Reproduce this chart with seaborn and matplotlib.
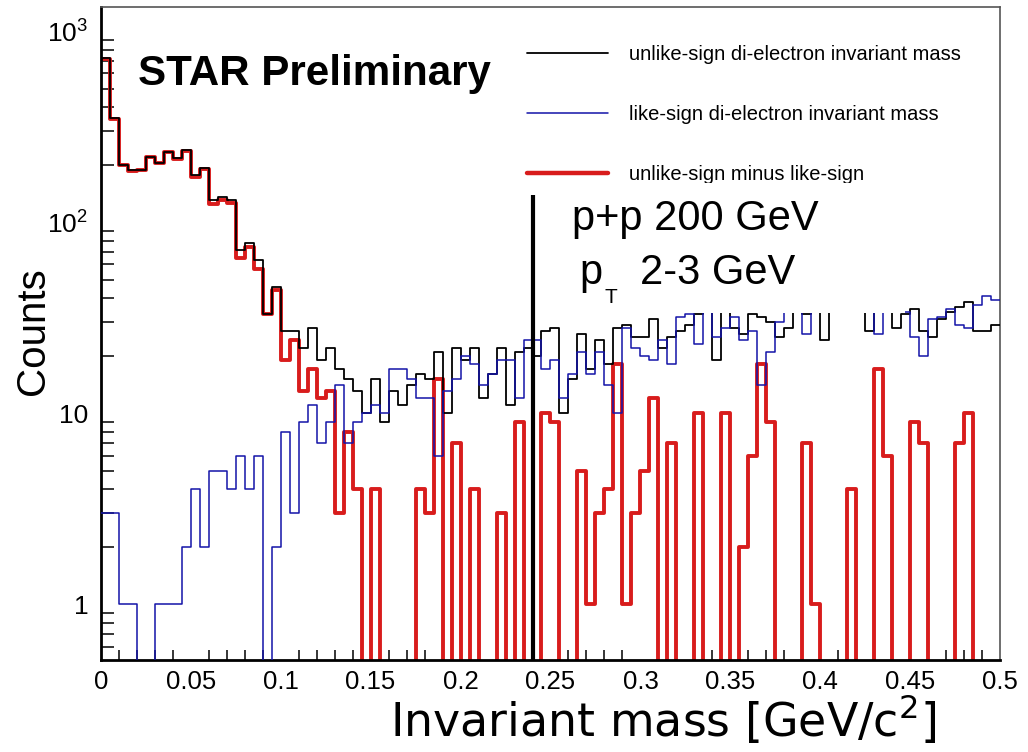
import numpy as np
import pandas as pd
import seaborn as sns
import matplotlib
matplotlib.use("Agg")
import matplotlib.pyplot as plt
from matplotlib.lines import Line2D
from matplotlib.patches import Rectangle
from matplotlib.ticker import FixedLocator, MultipleLocator, LogLocator, NullFormatter

# Binning: 100 bins of 0.005 GeV/c^2 between 0 and 0.5
n_bins = 100
mass_range = (0.0, 0.5)

# unlike-sign di-electron invariant mass (counts per bin)
unlike_sign = [720, 351, 199, 187, 187, 220, 204, 233, 216, 238,
               176, 191, 130, 136, 130, 71, 78, 63, 33, 46,
               27, 27, 22, 28, 19, 22, 17, 15, 13, 10,
               15, 9, 13, 11, 14, 16, 15, 21, 10, 22,
               19, 22, 12, 16, 22, 11, 21, 22, 20, 27,
               28, 10, 15, 26, 17, 24, 18, 28, 29, 25,
               25, 31, 22, 25, 27, 29, 33, 36, 19, 38,
               28, 26, 33, 32, 30, 25, 28, 35, 33, 35,
               24, 35, 35, 38, 36, 27, 43, 40, 28, 33,
               35, 27, 25, 31, 34, 36, 38, 27, 27, 29]

# like-sign di-electron invariant mass
like_sign = [3, 3, 1, 1, 0, 0, 1, 1, 1, 2,
             4, 2, 5, 5, 4, 6, 4, 6, 0, 2,
             8, 3, 9, 11, 7, 9, 14, 7, 9, 10,
             11, 10, 17, 17, 15, 12, 12, 6, 13, 15,
             20, 18, 14, 16, 19, 19, 12, 24, 24, 17,
             19, 12, 16, 21, 16, 21, 14, 10, 28, 22,
             20, 19, 24, 18, 32, 33, 23, 37, 25, 28,
             32, 24, 27, 14, 21, 30, 34, 35, 26, 34,
             34, 36, 36, 34, 37, 34, 26, 34, 34, 34,
             25, 20, 31, 32, 35, 29, 28, 37, 41, 39]

# unlike-sign minus like-sign (non-positive bins stored as 0)
unlike_minus_like = [717, 348, 198, 186, 187, 220, 203, 232, 215, 236,
                     172, 189, 125, 131, 126, 65, 74, 57, 33, 44,
                     19, 24, 13, 17, 12, 13, 3, 8, 4, 0,
                     4, 0, 0, 0, 0, 4, 3, 15, 0, 7,
                     0, 4, 0, 0, 3, 0, 9, 0, 0, 10,
                     9, 0, 0, 5, 1, 3, 4, 18, 1, 3,
                     5, 12, 0, 7, 0, 0, 10, 0, 0, 10,
                     0, 2, 6, 18, 9, 0, 0, 0, 7, 1,
                     0, 0, 0, 4, 0, 0, 17, 6, 0, 0,
                     9, 7, 0, 0, 0, 7, 10, 0, 0, 0]

legend_labels = ["unlike-sign di-electron invariant mass",
                 "like-sign di-electron invariant mass",
                 "unlike-sign minus like-sign"]
x_tick_values = [0, 0.05, 0.1, 0.15, 0.2, 0.25, 0.3, 0.35, 0.4, 0.45, 0.5]
x_tick_labels = ["0", "0.05", "0.1", "0.15", "0.2", "0.25", "0.3", "0.35", "0.4", "0.45", "0.5"]
y_tick_values = [1, 10, 100, 1000]
y_tick_labels = ["1", "10", r"$\mathdefault{10^{2}}$", r"$\mathdefault{10^{3}}$"]

# cut line at 0.24 GeV/c^2
cut_mass = 0.24
cut_top = 138

sns.set_theme(style="white")
plt.rcParams['font.family'] = ['Liberation Sans', 'DejaVu Sans']
plt.rcParams['text.color'] = 'black'
plt.rcParams['xtick.color'] = 'black'
plt.rcParams['ytick.color'] = 'black'

bin_w = (mass_range[1] - mass_range[0]) / n_bins
centers = mass_range[0] + bin_w * (np.arange(n_bins) + 0.5)
df = pd.DataFrame({"mass": centers,
                   "unlike": unlike_sign,
                   "like": like_sign,
                   "diff": unlike_minus_like})

fig = plt.figure(figsize=(10.28, 7.52), dpi=100)
ax = fig.add_axes([0.098, 0.1223, 0.875, 0.8684])
ax.set_yscale("log")

red = "#d81c1c"
blue = "#1414a8"
styles = [("diff", red, 2.8, 2), ("unlike", "black", 1.3, 3), ("like", blue, 1.1, 4)]
for col, color, lw, z in styles:
    sns.histplot(data=df, x="mass", weights=col, bins=n_bins, binrange=mass_range,
                 element="step", fill=False, color=color, linewidth=lw, ax=ax, zorder=z)

ax.set_xlim(0, 0.5)
ax.set_ylim(0.51, 1336)

# white box behind the p+p label (clips the histograms like in the original)
ax.add_patch(Rectangle((0.255, 33.4), 0.447 - 0.255, 160 - 33.4,
                       facecolor="white", edgecolor="none", zorder=6))
ax.vlines(cut_mass, 0.3, cut_top, color="black", linewidth=3.0, zorder=7)

# ticks, ROOT style
ax.xaxis.set_major_locator(FixedLocator(x_tick_values))
ax.set_xticklabels(x_tick_labels)
ax.xaxis.set_minor_locator(MultipleLocator(0.01))
ax.yaxis.set_major_locator(FixedLocator(y_tick_values))
ax.set_yticklabels(y_tick_labels)
ax.yaxis.set_minor_locator(LogLocator(base=10, subs=np.arange(2, 10)))
ax.yaxis.set_minor_formatter(NullFormatter())
ax.tick_params(axis="x", which="major", direction="in", length=14, width=1.1,
               labelsize=18.5, pad=7, colors="black")
ax.tick_params(axis="x", which="minor", direction="in", length=7, width=1.1, bottom=True)
ax.tick_params(axis="y", which="major", direction="in", length=19, width=1.1,
               labelsize=19, pad=9, colors="black")
ax.tick_params(axis="y", which="minor", direction="in", length=9.5, width=1.1, left=True)

for side in ["left", "bottom"]:
    ax.spines[side].set_linewidth(2.0)
    ax.spines[side].set_color("black")
for side in ["top", "right"]:
    ax.spines[side].set_linewidth(1.2)
    ax.spines[side].set_color("#555555")

ax.set_xlabel("")
ax.set_ylabel("")
fig.text(0.032, 0.56, "Counts", rotation=90, fontsize=29, ha="center", va="center")
fig.text(0.645, 0.043, r"Invariant mass [GeV/c$\mathdefault{^{2}}$]", fontsize=33,
         family="DejaVu Sans", ha="center", va="center")

handles = [Line2D([], [], color="black", linewidth=1.3),
           Line2D([], [], color=blue, linewidth=1.1),
           Line2D([], [], color=red, linewidth=3.2)]
leg = ax.legend(handles, legend_labels, loc="upper left", bbox_to_anchor=(0.474, 0.942),
                frameon=False, fontsize=14.5, handlelength=4.0, handletextpad=1.05,
                labelspacing=2.05, borderpad=0, borderaxespad=0)
for t in leg.get_texts():
    t.set_color("black")

fig.text(0.134, 0.887, "STAR Preliminary", fontsize=30.3, fontweight="bold", va="baseline")
fig.text(0.556, 0.694, "p+p 200 GeV", fontsize=30, va="baseline", zorder=8)
fig.text(0.564, 0.622, "p", fontsize=30, va="baseline", zorder=8)
fig.text(0.588, 0.597, "T", fontsize=15, va="baseline", zorder=8)
fig.text(0.623, 0.622, "2-3 GeV", fontsize=30, va="baseline", zorder=8)

fig.savefig("out.png", dpi=100)
